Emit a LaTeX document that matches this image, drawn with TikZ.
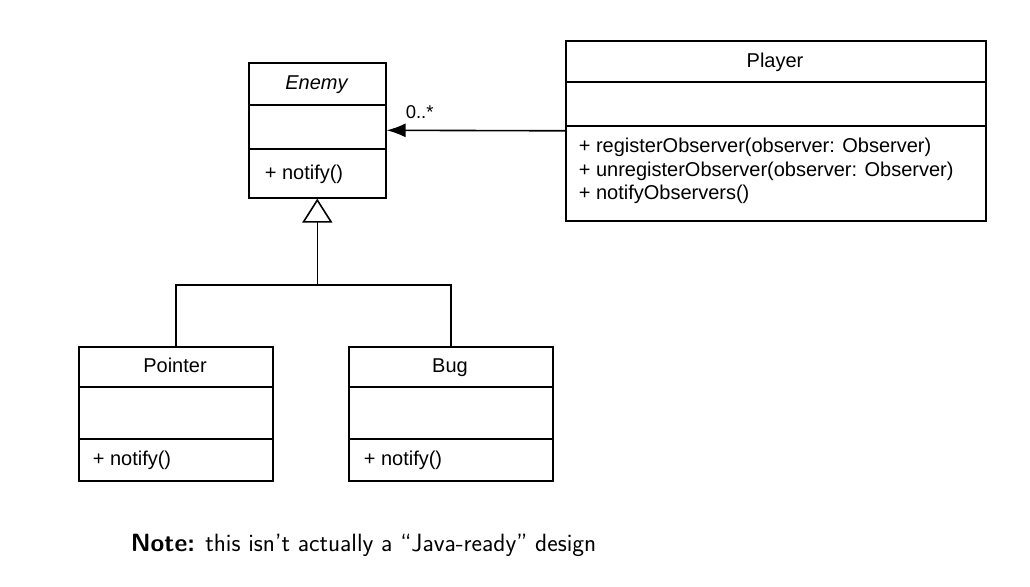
\documentclass[tikz,border=0pt]{standalone}
\usepackage{fontspec}
\usepackage{tikz}
\usetikzlibrary{arrows.meta}
\newfontfamily\umlfont{Liberation Sans}

\begin{document}
\begin{tikzpicture}[x=1pt, y=-1pt, line width=1.6pt,
    classbox/.style={draw, anchor=north west, inner sep=0pt},
    umltext/.style={inner sep=0pt, anchor=base, font=\umlfont\fontsize{20}{24}\selectfont},
    member/.style={umltext, anchor=base west}]
    \useasboundingbox (0,0) rectangle (1030,586);

    % Enemy class
    \node[classbox, minimum width=137pt, minimum height=135pt] (enemy) at (248,62) {};
    \draw (248,105) -- (385,105);
    \draw (248,149) -- (385,149);
    \node[umltext] (enemytitle) at (316.5,89) {\itshape Enemy};
    \node[member] (enemyop) at (264,179.5) {+ notify()};

    % Player class
    \node[classbox, minimum width=420pt, minimum height=180pt] (player) at (565,40) {};
    \draw (565,82) -- (985,82);
    \draw (565,126) -- (985,126);
    \node[umltext] (playertitle) at (775,67) {Player};
    \node[member] (playerop1) at (578,152.5) {+ registerObserver(observer: Observer)};
    \node[member] (playerop2) at (578,176) {+ unregisterObserver(observer: Observer)};
    \node[member] (playerop3) at (578,199.5) {+ notifyObservers()};

    % Pointer class
    \node[classbox, minimum width=194pt, minimum height=134pt] (pointer) at (78,346) {};
    \draw (78,387) -- (272,387);
    \draw (78,439) -- (272,439);
    \node[umltext] (pointertitle) at (175,372) {Pointer};
    \node[member] (pointerop) at (92,465.5) {+ notify()};

    % Bug class
    \node[classbox, minimum width=204pt, minimum height=134pt] (bug) at (348,346) {};
    \draw (348,387) -- (552,387);
    \draw (348,439) -- (552,439);
    \node[umltext] (bugtitle) at (450,372) {Bug};
    \node[member] (bugop) at (363,465.5) {+ notify()};

    % Association
    \draw[-{Latex[length=19pt,width=14pt]}] (player.west) -- (enemy.east);
    \node[umltext, anchor=base west, font=\umlfont\fontsize{18.5}{22}\selectfont] (mult) at (405,118.5) {0..*};

    % Inheritance
    \coordinate (join) at (enemy.south |- 0,285);
    \draw (pointer.north) |- (join) -| (bug.north);
    \draw[-{Triangle[open,length=24pt,width=30pt]}] (join) -- (enemy.south);

    % Note
    \node[anchor=base west, inner sep=0pt, font=\sffamily\fontsize{25}{30}\selectfont] (note) at (130,551)
        {\textbf{Note:} this isn't actually a ``Java-ready'' design};
\end{tikzpicture}
\end{document}
